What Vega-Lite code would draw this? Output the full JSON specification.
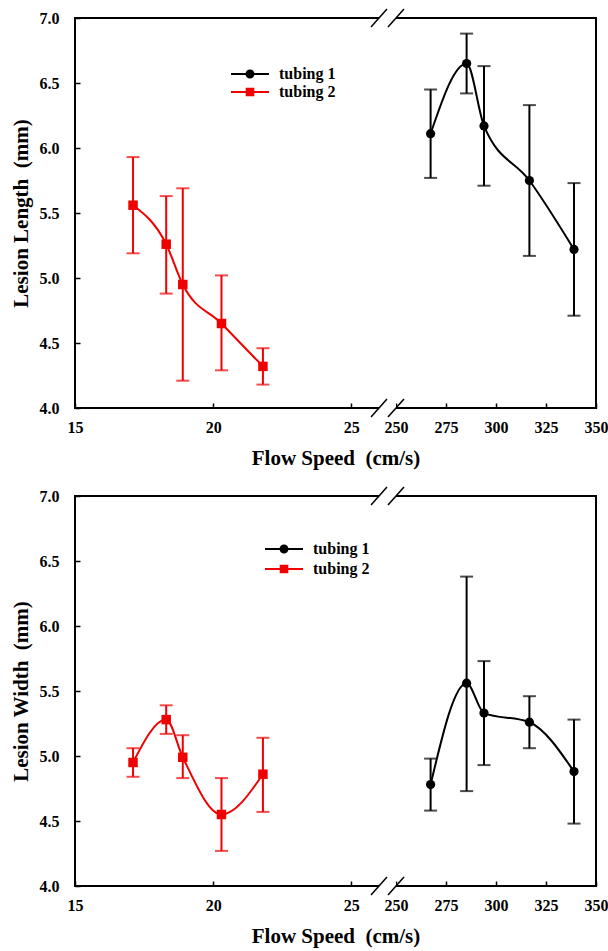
{
  "$schema": "https://vega.github.io/schema/vega-lite/v6.json",
  "background": "white",
  "padding": {"left": 9, "top": 7, "right": 5, "bottom": 5},
  "spacing": 16,
  "resolve": {"scale": {"color": "independent", "fill": "independent", "shape": "independent"}, "legend": {"color": "independent", "fill": "independent", "shape": "independent"}},
  "config": {
    "view": {"stroke": "black", "strokeWidth": 2},
    "font": "Liberation Serif",
    "axis": {
      "labelFont": "Liberation Serif", "labelFontWeight": "bold", "labelFontSize": 16, "labelColor": "black",
      "titleFont": "Liberation Serif", "titleFontWeight": "bold", "titleFontSize": 21, "titleColor": "black",
      "domain": false, "grid": false, "tickColor": "black", "tickWidth": 1.5, "tickSize": -5,
      "labelFlush": false, "labelOverlap": false
    },
    "legend": {"labelFont": "Liberation Serif", "labelFontWeight": "bold", "labelFontSize": 16, "labelColor": "black", "symbolStrokeWidth": 0, "symbolOpacity": 1, "padding": 0, "symbolSize": 100, "labelOffset": 21, "title": null}
  },
  "datasets": {
    "length": [
      {"tubing": "tubing 2", "speed": 17.1, "mean": 5.56, "lo": 5.19, "hi": 5.93},
      {"tubing": "tubing 2", "speed": 18.3, "mean": 5.26, "lo": 4.88, "hi": 5.63},
      {"tubing": "tubing 2", "speed": 18.9, "mean": 4.95, "lo": 4.21, "hi": 5.69},
      {"tubing": "tubing 2", "speed": 20.3, "mean": 4.65, "lo": 4.29, "hi": 5.02},
      {"tubing": "tubing 2", "speed": 21.8, "mean": 4.32, "lo": 4.18, "hi": 4.46},
      {"tubing": "tubing 1", "speed": 267.3, "mean": 6.11, "lo": 5.77, "hi": 6.45},
      {"tubing": "tubing 1", "speed": 285.3, "mean": 6.65, "lo": 6.42, "hi": 6.88},
      {"tubing": "tubing 1", "speed": 294, "mean": 6.17, "lo": 5.71, "hi": 6.63},
      {"tubing": "tubing 1", "speed": 316.7, "mean": 5.75, "lo": 5.17, "hi": 6.33},
      {"tubing": "tubing 1", "speed": 339, "mean": 5.22, "lo": 4.71, "hi": 5.73}
    ],
    "width": [
      {"tubing": "tubing 2", "speed": 17.1, "mean": 4.95, "lo": 4.84, "hi": 5.06},
      {"tubing": "tubing 2", "speed": 18.3, "mean": 5.28, "lo": 5.17, "hi": 5.39},
      {"tubing": "tubing 2", "speed": 18.9, "mean": 4.99, "lo": 4.83, "hi": 5.16},
      {"tubing": "tubing 2", "speed": 20.3, "mean": 4.55, "lo": 4.27, "hi": 4.83},
      {"tubing": "tubing 2", "speed": 21.8, "mean": 4.86, "lo": 4.57, "hi": 5.14},
      {"tubing": "tubing 1", "speed": 267.3, "mean": 4.78, "lo": 4.58, "hi": 4.98},
      {"tubing": "tubing 1", "speed": 285.3, "mean": 5.56, "lo": 4.73, "hi": 6.38},
      {"tubing": "tubing 1", "speed": 294, "mean": 5.33, "lo": 4.93, "hi": 5.73},
      {"tubing": "tubing 1", "speed": 316.7, "mean": 5.26, "lo": 5.06, "hi": 5.46},
      {"tubing": "tubing 1", "speed": 339, "mean": 4.88, "lo": 4.48, "hi": 5.28}
    ],
    "breaks": [
      {"speed": 26, "val": 7}, {"speed": 26, "val": 4},
      {"speed": 250, "val": 7}, {"speed": 250, "val": 4}
    ],
    "gaps": [
      {"speed": 26, "speed2": 250, "val": 7}, {"speed": 26, "speed2": 250, "val": 4}
    ]
  },
  "vconcat": [
    {
      "width": 521, "height": 390,
      "encoding": {
        "x": {"field": "speed", "type": "quantitative", "title": "Flow Speed\u00a0 (cm/s)",
          "scale": {"domain": [15, 26, 250, 350], "range": [0, 304, 321, 521], "nice": false, "zero": false},
          "axis": {"values": [15, 20, 25, 250, 275, 300, 325, 350], "labelPadding": 16, "titlePadding": 12}}
      },
      "layer": [
        {"data": {"name": "length"}, "mark": {"type": "rule", "strokeWidth": 2},
          "encoding": {
            "y": {"field": "lo", "type": "quantitative", "title": "Lesion Length\u00a0 (mm)",
              "scale": {"domain": [4, 7], "nice": false, "zero": false},
              "axis": {"values": [4, 4.5, 5, 5.5, 6, 6.5, 7], "format": ".1f", "labelPadding": 21, "titlePadding": 8}},
            "y2": {"field": "hi"},
            "color": {"field": "tubing", "type": "nominal", "scale": {"domain": ["tubing 1", "tubing 2"], "range": ["black", "#f00000"]},
              "legend": {"orient": "none", "legendX": 167, "legendY": 48, "rowPadding": 2}}
          }},
        {"data": {"name": "length"}, "mark": {"type": "tick", "orient": "horizontal", "size": 13, "thickness": 2},
          "encoding": {"y": {"field": "lo", "type": "quantitative"}, "color": {"field": "tubing", "type": "nominal"}}},
        {"data": {"name": "length"}, "mark": {"type": "tick", "orient": "horizontal", "size": 13, "thickness": 2},
          "encoding": {"y": {"field": "hi", "type": "quantitative"}, "color": {"field": "tubing", "type": "nominal"}}},
        {"data": {"name": "length"}, "mark": {"type": "line", "interpolate": "monotone", "strokeWidth": 2},
          "encoding": {"y": {"field": "mean", "type": "quantitative"}, "color": {"field": "tubing", "type": "nominal"}}},
        {"data": {"name": "length"}, "transform": [{"filter": "datum.tubing == 'tubing 1'"}],
          "mark": {"type": "point", "filled": true, "shape": "circle", "size": 85, "opacity": 1},
          "encoding": {"y": {"field": "mean", "type": "quantitative"}, "color": {"field": "tubing", "type": "nominal"}}},
        {"data": {"name": "length"}, "transform": [{"filter": "datum.tubing == 'tubing 2'"}],
          "mark": {"type": "point", "filled": true, "shape": "square", "size": 90, "opacity": 1},
          "encoding": {"y": {"field": "mean", "type": "quantitative"}, "color": {"field": "tubing", "type": "nominal"}}},
        {"data": {"name": "length"}, "transform": [{"filter": "datum.mean > 100"}],
          "mark": {"type": "point", "filled": true, "opacity": 1},
          "encoding": {"y": {"field": "mean", "type": "quantitative"},
            "fill": {"field": "tubing", "type": "nominal", "scale": {"domain": ["tubing 1", "tubing 2"], "range": ["black", "#f00000"]},
              "legend": {"orient": "none", "legendX": 167, "legendY": 48, "rowPadding": 2}},
            "shape": {"field": "tubing", "type": "nominal",
              "scale": {"domain": ["tubing 1", "tubing 2"], "range": ["M-3.8,-0.2H3.8V0.2H-3.8Z M0.9,0 A0.9,0.9 0 1,1 -0.9,0 A0.9,0.9 0 1,1 0.9,0Z", "M-3.8,-0.2H3.8V0.2H-3.8Z M-0.86,-0.86H0.86V0.86H-0.86Z"]},
              "legend": {"orient": "none", "legendX": 167, "legendY": 48, "rowPadding": 2}}
          }},
        {"data": {"name": "gaps"}, "mark": {"type": "rect", "color": "white", "yOffset": -4, "y2Offset": 4},
          "encoding": {"x2": {"field": "speed2"}, "y": {"field": "val", "type": "quantitative"}, "y2": {"field": "val"}}},
        {"data": {"name": "breaks"}, "mark": {"type": "rule", "color": "black", "strokeWidth": 1.5, "xOffset": -8, "x2Offset": 8, "yOffset": 9, "y2Offset": -9},
          "encoding": {"x2": {"field": "speed"}, "y": {"field": "val", "type": "quantitative"}, "y2": {"field": "val"}}}
      ]
    },
    {
      "width": 521, "height": 390,
      "encoding": {
        "x": {"field": "speed", "type": "quantitative", "title": "Flow Speed\u00a0 (cm/s)",
          "scale": {"domain": [15, 26, 250, 350], "range": [0, 304, 321, 521], "nice": false, "zero": false},
          "axis": {"values": [15, 20, 25, 250, 275, 300, 325, 350], "labelPadding": 16, "titlePadding": 12}}
      },
      "layer": [
        {"data": {"name": "width"}, "mark": {"type": "rule", "strokeWidth": 2},
          "encoding": {
            "y": {"field": "lo", "type": "quantitative", "title": "Lesion Width\u00a0 (mm)",
              "scale": {"domain": [4, 7], "nice": false, "zero": false},
              "axis": {"values": [4, 4.5, 5, 5.5, 6, 6.5, 7], "format": ".1f", "labelPadding": 21, "titlePadding": 8}},
            "y2": {"field": "hi"},
            "color": {"field": "tubing", "type": "nominal", "scale": {"domain": ["tubing 1", "tubing 2"], "range": ["black", "#f00000"]},
              "legend": {"orient": "none", "legendX": 201, "legendY": 45, "rowPadding": 4}}
          }},
        {"data": {"name": "width"}, "mark": {"type": "tick", "orient": "horizontal", "size": 13, "thickness": 2},
          "encoding": {"y": {"field": "lo", "type": "quantitative"}, "color": {"field": "tubing", "type": "nominal"}}},
        {"data": {"name": "width"}, "mark": {"type": "tick", "orient": "horizontal", "size": 13, "thickness": 2},
          "encoding": {"y": {"field": "hi", "type": "quantitative"}, "color": {"field": "tubing", "type": "nominal"}}},
        {"data": {"name": "width"}, "mark": {"type": "line", "interpolate": "monotone", "strokeWidth": 2},
          "encoding": {"y": {"field": "mean", "type": "quantitative"}, "color": {"field": "tubing", "type": "nominal"}}},
        {"data": {"name": "width"}, "transform": [{"filter": "datum.tubing == 'tubing 1'"}],
          "mark": {"type": "point", "filled": true, "shape": "circle", "size": 85, "opacity": 1},
          "encoding": {"y": {"field": "mean", "type": "quantitative"}, "color": {"field": "tubing", "type": "nominal"}}},
        {"data": {"name": "width"}, "transform": [{"filter": "datum.tubing == 'tubing 2'"}],
          "mark": {"type": "point", "filled": true, "shape": "square", "size": 90, "opacity": 1},
          "encoding": {"y": {"field": "mean", "type": "quantitative"}, "color": {"field": "tubing", "type": "nominal"}}},
        {"data": {"name": "width"}, "transform": [{"filter": "datum.mean > 100"}],
          "mark": {"type": "point", "filled": true, "opacity": 1},
          "encoding": {"y": {"field": "mean", "type": "quantitative"},
            "fill": {"field": "tubing", "type": "nominal", "scale": {"domain": ["tubing 1", "tubing 2"], "range": ["black", "#f00000"]},
              "legend": {"orient": "none", "legendX": 201, "legendY": 45, "rowPadding": 4}},
            "shape": {"field": "tubing", "type": "nominal",
              "scale": {"domain": ["tubing 1", "tubing 2"], "range": ["M-3.8,-0.2H3.8V0.2H-3.8Z M0.9,0 A0.9,0.9 0 1,1 -0.9,0 A0.9,0.9 0 1,1 0.9,0Z", "M-3.8,-0.2H3.8V0.2H-3.8Z M-0.86,-0.86H0.86V0.86H-0.86Z"]},
              "legend": {"orient": "none", "legendX": 201, "legendY": 45, "rowPadding": 4}}
          }},
        {"data": {"name": "gaps"}, "mark": {"type": "rect", "color": "white", "yOffset": -4, "y2Offset": 4},
          "encoding": {"x2": {"field": "speed2"}, "y": {"field": "val", "type": "quantitative"}, "y2": {"field": "val"}}},
        {"data": {"name": "breaks"}, "mark": {"type": "rule", "color": "black", "strokeWidth": 1.5, "xOffset": -8, "x2Offset": 8, "yOffset": 9, "y2Offset": -9},
          "encoding": {"x2": {"field": "speed"}, "y": {"field": "val", "type": "quantitative"}, "y2": {"field": "val"}}}
      ]
    }
  ]
}
